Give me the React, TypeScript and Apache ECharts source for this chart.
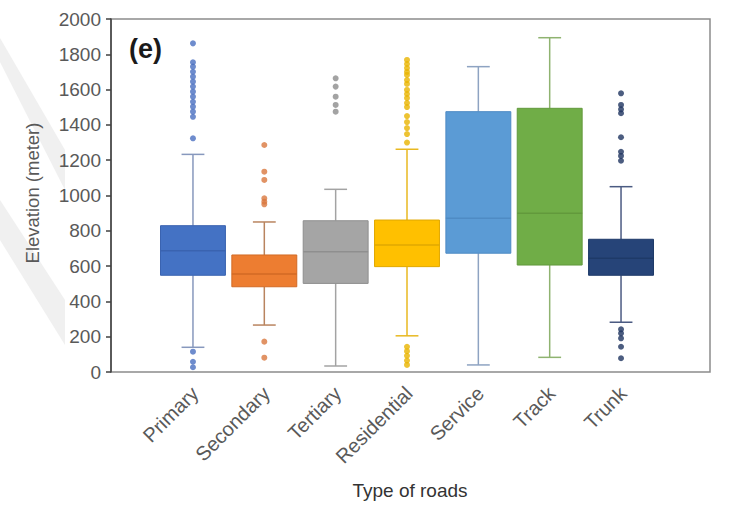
import React, { useEffect, useRef } from "react";
import * as echarts from "echarts";

const categories = ["Primary", "Secondary", "Tertiary", "Residential", "Service", "Track", "Trunk"];
// [min (lower whisker), Q1, median, Q3, max (upper whisker)]
const boxStats: number[][] = [
  [140, 548, 687, 829, 1233],
  [266, 483, 555, 663, 850],
  [34, 502, 682, 857, 1035],
  [205, 597, 720, 861, 1262],
  [40, 673, 871, 1475, 1730],
  [83, 606, 899, 1494, 1894],
  [282, 548, 644, 752, 1050],
];
const outlierPrimary = [1862, 1755, 1730, 1701, 1673, 1645, 1617, 1588, 1560, 1531, 1503, 1475, 1446, 1324, 115, 58, 27];
const outlierSecondary = [1286, 1135, 1088, 984, 965, 950, 172, 81];
const outlierTertiary = [1664, 1617, 1560, 1513, 1475];
const outlierResidential = [1768, 1745, 1722, 1700, 1683, 1654, 1632, 1598, 1575, 1552, 1524, 1501, 1450, 1416, 1382, 1348, 1300, 143, 118, 92, 65, 40];
const outlierService: number[] = [];
const outlierTrack: number[] = [];
const outlierTrunk = [1579, 1513, 1488, 1466, 1330, 1248, 1224, 1197, 242, 219, 191, 143, 78];
const outliers = [outlierPrimary, outlierSecondary, outlierTertiary, outlierResidential, outlierService, outlierTrack, outlierTrunk];

const fillColors = ["#4472C4", "#ED7D31", "#A5A5A5", "#FFC000", "#5B9BD5", "#70AD47", "#264478"];
const whiskerColors = ["#8798bd", "#b9845f", "#a3a3a3", "#e8b820", "#8ea3c2", "#8fb370", "#4b5b82"];
const medianColors = ["#3a63b0", "#d26a25", "#8f8f8f", "#e0a800", "#4f8bc4", "#62993c", "#1e3a68"];
const dotColors = ["#4a6fc0", "#d9783e", "#8c8c8c", "#e9b400", "#5B9BD5", "#70AD47", "#1f3560"];

const yTicksMin = 0;
const yTicksMax = 2000;
const yInterval = 200;

export default function App() {
  const ref = useRef<HTMLDivElement>(null);
  useEffect(() => {
    if (!ref.current) return;
    const chart = echarts.init(ref.current, null, { renderer: "svg" });
    const boxData = boxStats.map((s, i) => [i, ...s]);
    const scatterData: any[] = [];
    outliers.forEach((arr, i) => {
      arr.forEach((v) => scatterData.push({ value: [i, v], itemStyle: { color: dotColors[i] } }));
    });
    const font = "Liberation Sans, Arial, sans-serif";
    chart.setOption({
      animation: false,
      backgroundColor: "#ffffff",
      grid: [
        { left: 111, right: 20, top: 19, bottom: 133, show: true, borderColor: "#8c8c8c", borderWidth: 1.5, backgroundColor: "transparent" },
        { left: 157.3, right: 73.3, top: 19, bottom: 133 },
        { left: 159.3, right: 71.3, top: 19, bottom: 133 },
      ],
      xAxis: [
        { gridIndex: 0, type: "value", min: 0, max: 1, show: false },
        {
          gridIndex: 1,
          type: "category",
          data: categories,
          boundaryGap: true,
          axisLine: { show: false },
          axisTick: { show: false },
          splitLine: { show: false },
          axisLabel: { show: false },
        },
        {
          gridIndex: 2,
          type: "category",
          data: categories,
          boundaryGap: true,
          axisLine: { show: false },
          axisTick: { show: false },
          splitLine: { show: false },
          axisLabel: { rotate: 45, fontSize: 20, color: "#595959", fontFamily: font, margin: 18, interval: 0 },
        },
      ],
      yAxis: [
        {
          gridIndex: 0,
          type: "value",
          min: yTicksMin,
          max: yTicksMax,
          interval: yInterval,
          axisLine: { show: true, lineStyle: { color: "#404040", width: 1.5 } },
          axisTick: { show: true, inside: false, length: 5, lineStyle: { color: "#404040", width: 1.5 } },
          splitLine: { show: false },
          axisLabel: { fontSize: 19, color: "#595959", fontFamily: font, margin: 10, formatter: (v: number) => String(v) },
        },
        { gridIndex: 1, type: "value", min: yTicksMin, max: yTicksMax, show: false, splitLine: { show: false } },
        { gridIndex: 2, type: "value", min: yTicksMin, max: yTicksMax, show: false, splitLine: { show: false } },
      ],
      graphic: [
        { type: "polygon", shape: { points: [[0, 38], [0, 62], [65, 190], [65, 150]] }, style: { fill: "#f0f0f0" }, z: -10 },
        { type: "polygon", shape: { points: [[0, 200], [0, 240], [65, 345], [65, 300]] }, style: { fill: "#f0f0f0" }, z: -10 },
        {
          type: "text",
          x: 129,
          y: 49,
          style: { text: "(e)", font: "bold 27px " + font, fill: "#1a1a1a", verticalAlign: "middle", align: "left" },
          z: 10,
        },
        {
          type: "text",
          x: 32,
          y: 193,
          rotation: Math.PI / 2,
          style: { text: "Elevation (meter)", font: "18.5px " + font, fill: "#595959", align: "center", verticalAlign: "middle" },
        },
        {
          type: "text",
          x: 410,
          y: 490,
          style: { text: "Type of roads", font: "19px " + font, fill: "#333333", align: "center", verticalAlign: "middle" },
        },
      ],
      series: [
        {
          type: "custom",
          xAxisIndex: 1,
          yAxisIndex: 1,
          data: boxData,
          encode: { x: 0, y: [1, 2, 3, 4, 5] },
          renderItem: (params: any, api: any) => {
            const idx = api.value(0);
            const vals = [api.value(1), api.value(2), api.value(3), api.value(4), api.value(5)];
            const pts = vals.map((v) => api.coord([idx, v]));
            const x = pts[0][0];
            const band = api.size([1, 0])[0];
            const hw = band * 0.455;
            const cw = band * 0.16;
            const wc = whiskerColors[idx];
            const lw = 1.5;
            return {
              type: "group",
              children: [
                { type: "line", shape: { x1: x, y1: pts[0][1], x2: x, y2: pts[1][1] }, style: { stroke: wc, lineWidth: lw } },
                { type: "line", shape: { x1: x, y1: pts[3][1], x2: x, y2: pts[4][1] }, style: { stroke: wc, lineWidth: lw } },
                { type: "line", shape: { x1: x - cw, y1: pts[0][1], x2: x + cw, y2: pts[0][1] }, style: { stroke: wc, lineWidth: lw } },
                { type: "line", shape: { x1: x - cw, y1: pts[4][1], x2: x + cw, y2: pts[4][1] }, style: { stroke: wc, lineWidth: lw } },
                {
                  type: "rect",
                  shape: { x: x - hw, y: pts[3][1], width: hw * 2, height: pts[1][1] - pts[3][1] },
                  style: { fill: fillColors[idx], stroke: medianColors[idx], lineWidth: 1 },
                },
                { type: "line", shape: { x1: x - hw, y1: pts[2][1], x2: x + hw, y2: pts[2][1] }, style: { stroke: medianColors[idx], lineWidth: 1.5 } },
              ],
            };
          },
          z: 2,
        },
        {
          type: "scatter",
          xAxisIndex: 1,
          yAxisIndex: 1,
          data: scatterData,
          symbolSize: 6,
          z: 3,
        },
      ],
    });
    return () => chart.dispose();
  }, []);
  return <div ref={ref} style={{ position: "fixed", left: 0, top: 0, width: 730, height: 505 }} />;
}
